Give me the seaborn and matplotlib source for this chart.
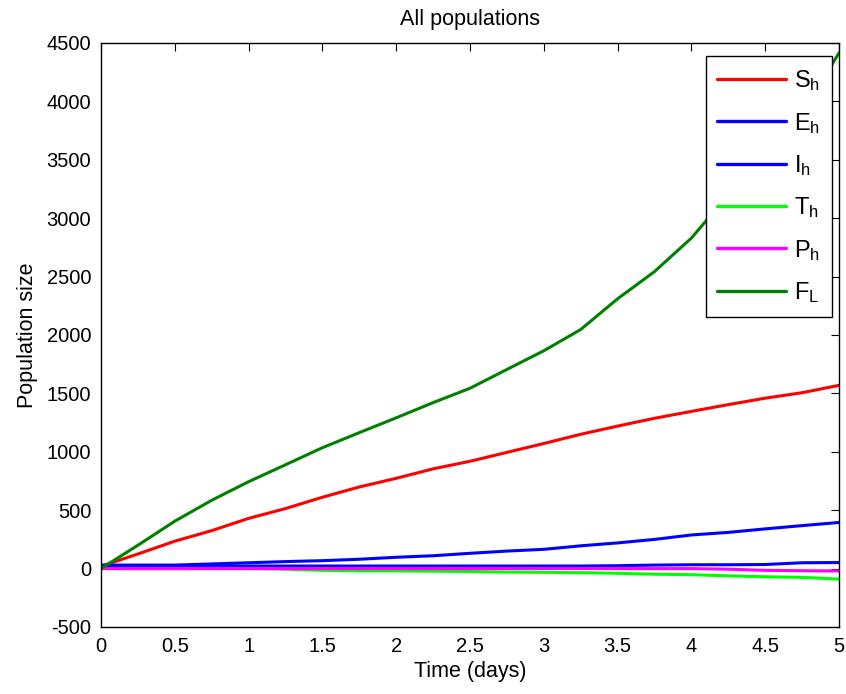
import numpy as np
import pandas as pd
import matplotlib
matplotlib.use("Agg")
import matplotlib.pyplot as plt
import seaborn as sns

#%% data (t in days, step 0.25)
t = [0, 0.25, 0.5, 0.75, 1.0, 1.25, 1.5, 1.75, 2.0, 2.25, 2.5,
     2.75, 3.0, 3.25, 3.5, 3.75, 4.0, 4.25, 4.5, 4.75, 5.0]
S_h = [20, 125, 235, 325, 430, 514, 611, 699, 773, 854, 919,
       995, 1071, 1150, 1220, 1287, 1346, 1404, 1459, 1506, 1569]
E_h = [20, 22, 22, 22, 22, 22, 22, 22, 22, 22, 22,
       22, 22, 22, 25, 30, 33, 33, 35, 50, 52]
I_h = [30, 30, 30, 40, 50, 60, 68, 80, 97, 110, 131,
       150, 165, 195, 220, 250, 288, 310, 340, 368, 395]
T_h = [0, 0, 0, 0, 0, -5, -15, -20, -20, -22, -25,
       -30, -32, -35, -40, -48, -52, -62, -70, -75, -90]
P_h = [0, 0, 0, 0, 0, 0, 0, 0, 0, 0, 0,
       0, 0, 0, 0, 0, 0, -5, -15, -18, -20]
F_L = [0, 200, 406, 585, 744, 889, 1035, 1164, 1291, 1421, 1544,
       1705, 1865, 2047, 2310, 2543, 2830, 3200, 3560, 3900, 4415]

names = ['$\\mathregular{S_h}$', '$\\mathregular{E_h}$', '$\\mathregular{I_h}$',
         '$\\mathregular{T_h}$', '$\\mathregular{P_h}$', '$\\mathregular{F_L}$']
series = [S_h, E_h, I_h, T_h, P_h, F_L]
colors = ['#ff0000', '#0000ff', '#0000ff', '#00ff00', '#ff00ff', '#008000']

df = pd.concat([pd.DataFrame({'t': t, 'val': s, 'pop': n}) for n, s in zip(names, series)],
               ignore_index=True)

#%% plot
sns.set_theme(style="white")
plt.rcParams['font.family'] = ['Liberation Sans', 'DejaVu Sans']
plt.rcParams['mathtext.fontset'] = 'custom'
plt.rcParams['mathtext.rm'] = 'Liberation Sans'
plt.rcParams['axes.unicode_minus'] = False
plt.rcParams['text.color'] = 'black'
plt.rcParams['axes.labelcolor'] = 'black'

fig = plt.figure(figsize=(8.46, 6.94), dpi=100)
ax = fig.add_axes([101/846, 1-627/694, (839-101)/846, (627-43)/694])

sns.lineplot(data=df, x='t', y='val', hue='pop', hue_order=names,
             palette=dict(zip(names, colors)), linewidth=2.2, ax=ax)

ax.set_xlim(0, 5)
ax.set_ylim(-500, 4500)
ax.set_xticks(np.arange(0, 5.01, 0.5))
ax.set_xticklabels(['0', '0.5', '1', '1.5', '2', '2.5', '3', '3.5', '4', '4.5', '5'])
ax.set_yticks(np.arange(-500, 4501, 500))
ax.tick_params(direction='in', length=6, width=0.8, top=True, right=True,
               labelsize=14.5, colors='black', pad=7)
for sp in ax.spines.values():
    sp.set_color('black')
    sp.set_linewidth(1.0)

ax.set_title('All populations', fontsize=15.5, pad=13, color='black')
ax.set_xlabel('Time (days)', fontsize=15.5, labelpad=4)
ax.set_ylabel('Population size', fontsize=15.5, labelpad=6)

leg = ax.legend(loc='upper right', bbox_to_anchor=(0.9905, 0.977), fontsize=17,
                fancybox=False, edgecolor='black', framealpha=1,
                handlelength=2.9, handletextpad=0.35, labelspacing=0.74,
                borderpad=0.5, borderaxespad=0)
leg.get_frame().set_linewidth(1.0)
for line in leg.get_lines():
    line.set_linewidth(2.4)

fig.savefig('out.png', dpi=100, facecolor='white')
